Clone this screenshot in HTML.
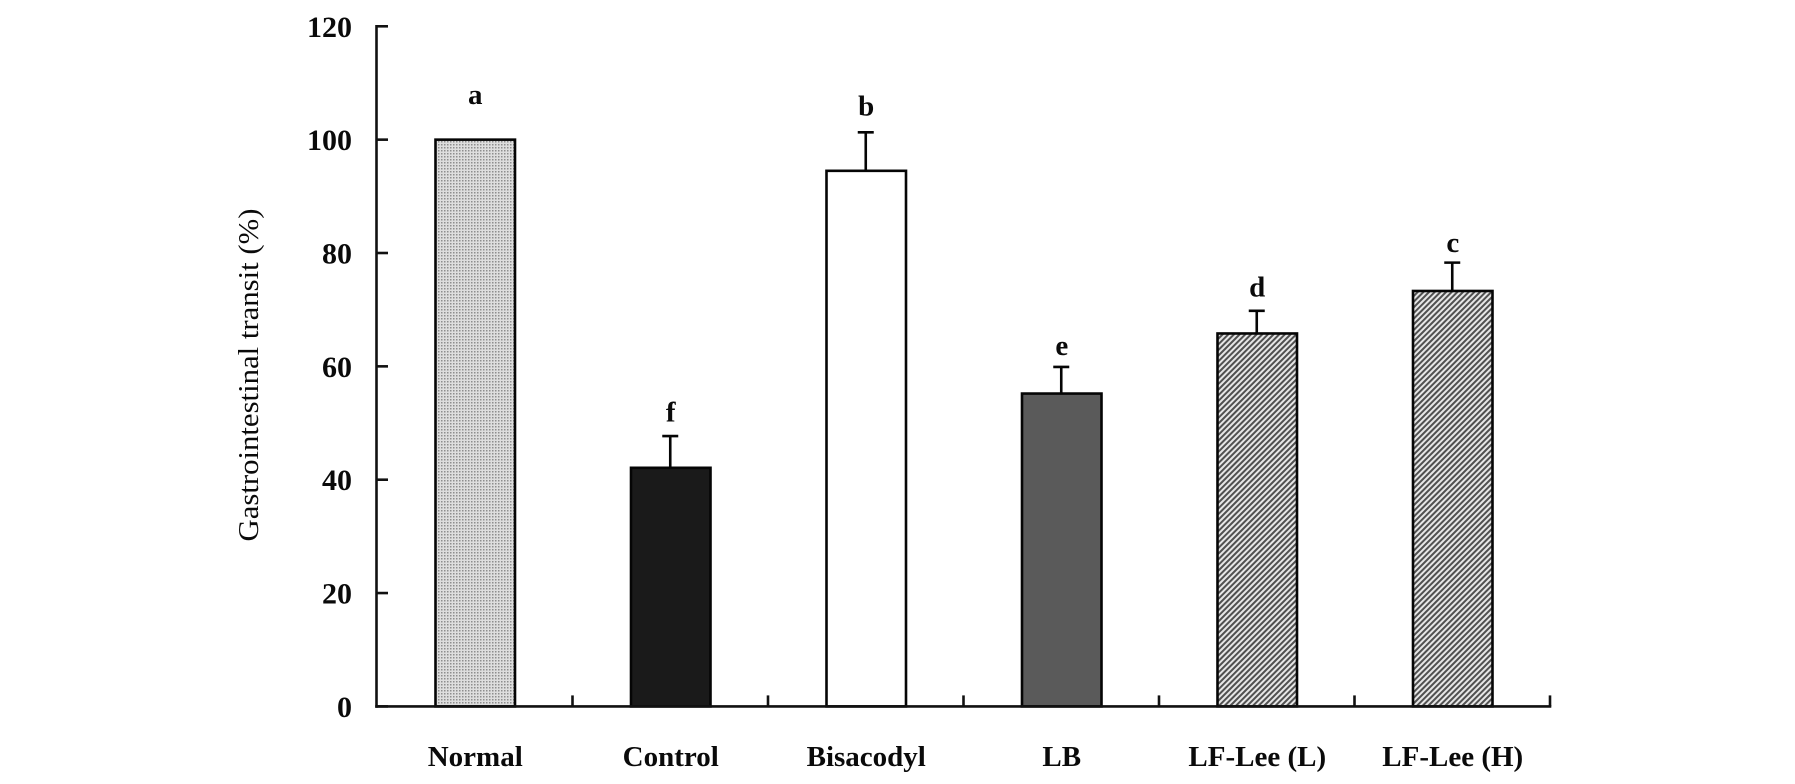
<!DOCTYPE html>
<html lang="en">
<head>
<meta charset="utf-8">
<title>Gastrointestinal transit</title>
<style>
html,body{margin:0;padding:0;background:#fff;}
svg{display:block;}
text{font-family:"Liberation Serif","Times New Roman",serif;fill:#0a0a0a;}
</style>
</head>
<body>
<svg id="chart" width="1795" height="784" viewBox="0 0 1795 784" xmlns="http://www.w3.org/2000/svg">
  <defs>
    <pattern id="dots" width="3" height="3" patternUnits="userSpaceOnUse">
      <rect width="3" height="3" fill="#dedede"/>
      <rect width="1.5" height="1.5" fill="#8e8e8e"/>
    </pattern>
    <pattern id="hatch" width="4" height="4" patternUnits="userSpaceOnUse" patternTransform="rotate(-45)">
      <rect width="4" height="4" fill="#e6e6e6"/>
      <rect width="4" height="2" fill="#505050"/>
    </pattern>
  </defs>
  <text transform="translate(258 375) rotate(-90)" text-anchor="middle" font-size="29" textLength="333" lengthAdjust="spacingAndGlyphs">Gastrointestinal transit (%)</text>
  <g id="marks"></g>
</svg>
<script>
const categories = ['Normal', 'Control', 'Bisacodyl', 'LB', 'LF-Lee (L)', 'LF-Lee (H)'];
const transitValues = [100, 42.1, 94.5, 55.2, 65.8, 73.3];
const errorValues = [0, 5.6, 6.8, 4.7, 4.0, 5.0];
const significanceLetters = ['a', 'f', 'b', 'e', 'd', 'c'];
const letterClearance = [6.3, 2.6, 3.0, 2.1, 2.5, 1.9];
const yTickLabels = [0, 20, 40, 60, 80, 100, 120];
const barFills = ['url(#dots)', '#1a1a1a', '#ffffff', '#5a5a5a', 'url(#hatch)', 'url(#hatch)'];

const axisLeft = 377;
const axisRight = 1550;
const axisTop = 26.3;
const axisBottom = 706.4;
const yMax = 120;
const barWidth = 79.5;
const tickLength = 11;
const NS = 'http://www.w3.org/2000/svg';
const root = document.getElementById('marks');
const bandWidth = (axisRight - axisLeft) / categories.length;

function xBand(i) { return axisLeft + bandWidth * i; }
function xCenter(i) { return xBand(i) + bandWidth / 2 + 0.5; }
function yScale(v) { return axisBottom - (v / yMax) * (axisBottom - axisTop); }

function make(tag, attrs, parent) {
  const el = document.createElementNS(NS, tag);
  for (const k in attrs) el.setAttribute(k, attrs[k]);
  (parent || root).appendChild(el);
  return el;
}

// bars
categories.forEach(function (cat, i) {
  const top = yScale(transitValues[i]);
  const bar = make('rect', {
    x: xCenter(i) - barWidth / 2,
    y: top,
    width: barWidth,
    height: axisBottom - top,
    fill: barFills[i],
    stroke: '#050505',
    'stroke-width': 2.6
  });
  
  

  // error bars
  if (errorValues[i] > 0) {
    const capY = yScale(transitValues[i] + errorValues[i]);
    const stem = make('line', { x1: xCenter(i) - 0.5, x2: xCenter(i) - 0.5, y1: top, y2: capY, stroke: '#050505', 'stroke-width': 2.6 });
    
    
    const cap = make('line', { x1: xCenter(i) - 8.5, x2: xCenter(i) + 7.5, y1: capY, y2: capY, stroke: '#050505', 'stroke-width': 2.6 });
    
    
  }

  // significance letters
  const letterBase = transitValues[i] + errorValues[i] + letterClearance[i];
  const letter = make('text', { x: xCenter(i), y: yScale(letterBase), 'text-anchor': 'middle', 'font-size': 29, 'font-weight': 'bold' });
  letter.textContent = significanceLetters[i];
  
  

  // category labels
  const label = make('text', { x: xCenter(i), y: 766, 'text-anchor': 'middle', 'font-size': 29, 'font-weight': 'bold' });
  label.textContent = cat;
  
  

  // x ticks
  const xt = make('line', { x1: xBand(i + 1), x2: xBand(i + 1), y1: axisBottom, y2: axisBottom - tickLength, stroke: '#111111', 'stroke-width': 2.6 });
  
  
});

// y axis
yTickLabels.forEach(function (t) {
  const y = yScale(t);
  const tick = make('line', { x1: axisLeft - 1, x2: axisLeft + tickLength, y1: y, y2: y, stroke: '#111111', 'stroke-width': 2.6 });
  
  
  const lab = make('text', { x: 352, y: y + 10.5, 'text-anchor': 'end', 'font-size': 30, 'font-weight': 'bold' });
  lab.textContent = t;
  
  
});

const yAxis = make('line', { x1: axisLeft - 0.5, x2: axisLeft - 0.5, y1: axisTop - 1.3, y2: axisBottom + 1.3, stroke: '#111111', 'stroke-width': 2.6 });



const xAxis = make('line', { x1: axisLeft - 1.8, x2: axisRight + 1.3, y1: axisBottom, y2: axisBottom, stroke: '#111111', 'stroke-width': 2.6 });


</script>
</body>
</html>
